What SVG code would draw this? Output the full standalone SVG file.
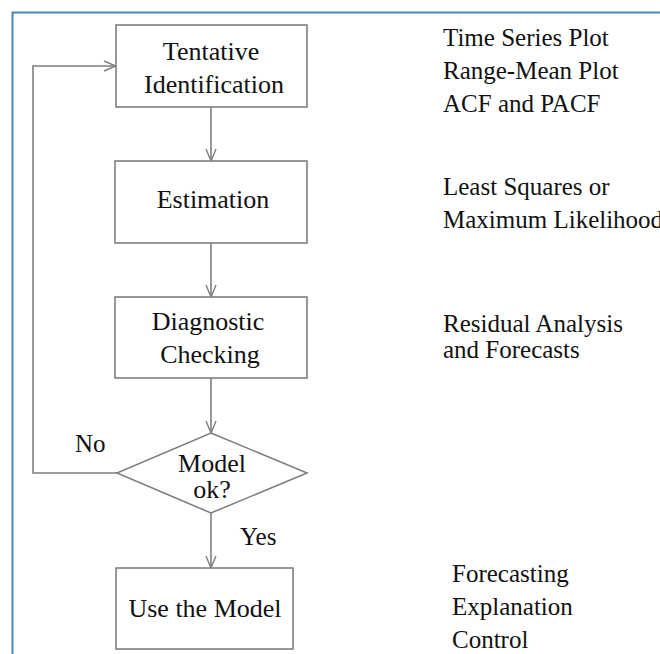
<svg xmlns="http://www.w3.org/2000/svg" width="660" height="654" viewBox="0 0 660 654">
<style>
.box{fill:#fff;stroke:#7f7f7f;stroke-width:1.6}
.ln{fill:none;stroke:#7f7f7f;stroke-width:1.6}
text{font-family:'Liberation Serif','Tinos','Times New Roman','DejaVu Serif',serif;fill:#111}
.t{font-size:26px;text-anchor:middle}
.s{font-size:25px}
</style>
<defs>
<marker id="arr" markerWidth="14" markerHeight="12" refX="13" refY="6" orient="auto" markerUnits="userSpaceOnUse">
<path d="M1,1 L13,6 L1,11" fill="none" stroke="#7f7f7f" stroke-width="1.4"/>
</marker>
</defs>
<rect width="660" height="654" fill="#fff"/>
<path d="M12.5,654 V12.5 H660" fill="none" stroke="#4f81bd" stroke-width="2"/>
<g id="connectors">
<line class="ln" x1="211" y1="107" x2="211" y2="161" marker-end="url(#arr)"/>
<line class="ln" x1="211" y1="243" x2="211" y2="297" marker-end="url(#arr)"/>
<line class="ln" x1="211" y1="378" x2="211" y2="433" marker-end="url(#arr)"/>
<line class="ln" x1="211" y1="513" x2="211" y2="568" marker-end="url(#arr)"/>
<path class="ln" d="M117,473 H33 V66 H116" marker-end="url(#arr)"/>
<text class="s" x="75" y="452" font-size="26">No</text>
<text class="s" x="240" y="545" font-size="26">Yes</text>
</g>
<g id="n1">
<rect class="box" x="116" y="25" width="191" height="82"/>
<text class="t" x="211" y="60">Tentative</text>
<text class="t" x="214" y="93">Identification</text>
</g>
<g id="n2">
<rect class="box" x="115" y="161" width="192" height="82"/>
<text class="t" x="213" y="208">Estimation</text>
</g>
<g id="n3">
<rect class="box" x="115" y="297" width="192" height="81"/>
<text class="t" x="208" y="330">Diagnostic</text>
<text class="t" x="210" y="363">Checking</text>
</g>
<g id="n4">
<polygon class="box" points="211,433 307,473 211,513 117,473"/>
<text class="t" x="212" y="472" font-size="25">Model</text>
<text class="t" x="212" y="498" font-size="25">ok?</text>
</g>
<g id="n5">
<rect class="box" x="116" y="568" width="177" height="81"/>
<text class="t" x="205" y="617" font-size="25">Use the Model</text>
</g>
<g id="notes">
<text class="s" x="443" y="46">Time Series Plot</text>
<text class="s" x="443" y="79">Range-Mean Plot</text>
<text class="s" x="443" y="112">ACF and PACF</text>
<text class="s" x="443" y="195">Least Squares or</text>
<text class="s" x="443" y="228">Maximum Likelihood</text>
<text class="s" x="443" y="332">Residual Analysis</text>
<text class="s" x="443" y="358">and Forecasts</text>
<text class="s" x="452" y="582">Forecasting</text>
<text class="s" x="452" y="615">Explanation</text>
<text class="s" x="452" y="648">Control</text>
</g>
</svg>
